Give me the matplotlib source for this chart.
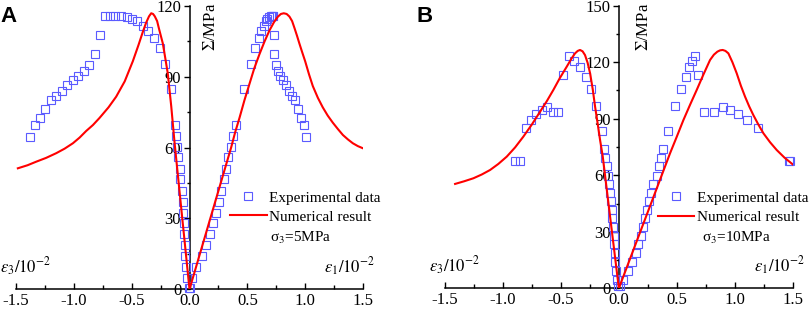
import matplotlib
matplotlib.use('Agg')
import matplotlib.pyplot as plt
from matplotlib.ticker import MultipleLocator, FormatStrFormatter

# ---------------- data ----------------
# Panel A (sigma3 = 5 MPa): experimental points (stress, eps1, eps3)
stressA = [0.5, 4.8, 9.3, 13.9, 18.7, 23.3, 28.0, 32.4, 37.1, 41.6, 46.5, 51.1, 55.8, 60.4, 64.7,
           69.4, 84.6, 95.2, 102.0, 106.3, 109.4, 111.6, 113.4, 114.4, 115.1, 115.5, 115.7, 115.8,
           115.7, 107.6, 99.4, 94.8, 92.5, 90.1, 88.4, 86.6, 83.9, 81.8, 80.1, 76.3, 72.5, 69.4, 64.3]
e1A = [0.005, 0.020, 0.060, 0.106, 0.144, 0.176, 0.199, 0.231, 0.253, 0.271, 0.300, 0.317, 0.337,
       0.362, 0.380, 0.403, 0.475, 0.530, 0.570, 0.599, 0.622, 0.643, 0.660, 0.674, 0.689, 0.703,
       0.715, 0.726, 0.720, 0.729, 0.729, 0.746, 0.763, 0.784, 0.812, 0.836, 0.864, 0.890, 0.916,
       0.936, 0.962, 0.991, 1.003]
e3A = [-0.005, -0.023, -0.026, -0.035, -0.041, -0.049, -0.049, -0.054, -0.060, -0.069, -0.080,
       -0.086, -0.098, -0.105, -0.115, -0.127, -0.162, -0.213, -0.259, -0.305, -0.357, -0.403,
       -0.450, -0.495, -0.542, -0.590, -0.640, -0.686, -0.732, -0.775, -0.818, -0.867, -0.913,
       -0.962, -1.008, -1.055, -1.104, -1.150, -1.195, -1.247, -1.294, -1.340, -1.383]
# Panel A numerical curve
numA_x = [-1.484, -1.40, -1.325, -1.24, -1.152, -1.08, -1.008, -0.95, -0.893, -0.835, -0.778,
          -0.70, -0.634, -0.56, -0.490, -0.44, -0.403, -0.375, -0.350, -0.331, -0.315, -0.300,
          -0.280, -0.265, -0.231, -0.21, -0.188, -0.158, -0.130, 0.0,
          0.36, 0.395, 0.432, 0.475, 0.519, 0.56, 0.605, 0.65, 0.691, 0.73, 0.763, 0.79, 0.815,
          0.84, 0.864, 0.887, 0.908, 0.93, 0.950, 0.975, 1.000, 1.033, 1.066, 1.11, 1.152, 1.195,
          1.239, 1.283, 1.326, 1.37, 1.412, 1.455, 1.498]
numA_y = [51.2, 52.5, 54.0, 55.6, 57.6, 59.5, 61.8, 64.2, 67.0, 69.5, 72.5,
          77.0, 81.5, 88.0, 96.5, 103.5, 109.0, 112.8, 115.5, 116.8, 116.5, 115.5,
          113.5, 110.5, 104.1, 98.0, 91.4, 77.5, 62.5, 0.0,
          60.0, 66.5, 72.5, 80.0, 87.0, 93.5, 99.5, 105.0, 109.5, 113.0, 115.3, 116.5, 116.8,
          116.5, 115.4, 113.5, 110.5, 107.2, 104.0, 100.2, 96.5, 91.0, 86.0, 81.0, 77.0, 73.5,
          70.5, 67.8, 65.3, 63.4, 61.8, 60.6, 59.7]

# Panel B (sigma3 = 10 MPa)
stressB = [1.0, 4.4, 9.2, 13.8, 18.9, 23.4, 27.8, 32.7, 37.2, 41.6, 46.3, 50.7, 55.2, 59.6, 64.9,
           69.0, 73.8, 83.5, 96.8, 105.6, 112.3, 117.4, 120.6, 123.1, 113.4, 93.6, 93.4, 96.0,
           94.5, 92.7, 89.2, 85.3, 67.7, 67.7]
e1B = [0.01, 0.039, 0.077, 0.111, 0.148, 0.163, 0.189, 0.206, 0.223, 0.246, 0.263, 0.280, 0.298,
       0.327, 0.347, 0.364, 0.384, 0.422, 0.485, 0.537, 0.577, 0.608, 0.632, 0.660, 0.686, 0.738,
       0.824, 0.896, 0.959, 1.026, 1.104, 1.199, 1.465, 1.475]
e3B = [-0.01, -0.018, -0.024, -0.030, -0.033, -0.038, -0.041, -0.047, -0.056, -0.061, -0.070,
       -0.076, -0.085, -0.095, -0.104, -0.116, -0.125, -0.148, -0.194, -0.240, -0.286, -0.337,
       -0.384, -0.430, -0.479, -0.522, -0.570, -0.619, -0.665, -0.712, -0.758, -0.803, -0.850,
       -0.896]
numB_x = [-1.413, -1.335, -1.255, -1.183, -1.111, -1.04, -0.967, -0.895, -0.824, -0.75, -0.680,
          -0.62, -0.565, -0.51, -0.450, -0.41, -0.378, -0.355, -0.335, -0.313, -0.292, -0.27,
          -0.248, -0.225, -0.205, -0.183, -0.162, -0.139, 0.0,
          0.442, 0.50, 0.557, 0.615, 0.672, 0.73, 0.787, 0.82, 0.850, 0.873, 0.896, 0.92, 0.945,
          0.98, 1.017, 1.053, 1.089, 1.125, 1.160, 1.203, 1.247, 1.305, 1.362, 1.43, 1.500]
numB_y = [55.4, 56.8, 58.4, 60.4, 62.8, 66.0, 69.9, 74.8, 80.5, 87.0, 93.7,
          99.5, 105.3, 111.5, 117.6, 121.8, 124.7, 126.0, 126.5, 125.8, 123.8, 119.8,
          114.1, 105.5, 96.4, 87.5, 78.7, 70.0, 0.0,
          71.7, 80.5, 89.3, 97.5, 105.3, 113.5, 121.2, 124.0, 125.6, 126.3, 126.5, 126.0, 124.7,
          120.0, 114.1, 107.5, 101.7, 96.5, 92.0, 87.0, 82.3, 77.5, 73.4, 69.3, 65.8]

legend_labels = ['Experimental data', 'Numerical result']
sigma_labels = ['σ$_3$=5MPa', 'σ$_3$=10MPa']
panel_labels = ['A', 'B']

# ---------------- style ----------------
plt.rcParams['font.family'] = ['Liberation Serif', 'DejaVu Serif']
plt.rcParams['mathtext.fontset'] = 'stix'
plt.rcParams['axes.unicode_minus'] = False

BLUE = '#5b5bff'
RED = '#ff0000'

fig = plt.figure(figsize=(8.09, 3.10), dpi=100)
W, H = 809.0, 310.0


def panel(left_px, width_px, bottom_px, top_px, ymax, stress, e1, e3, nx, ny,
          sig_label, leg_xy, sig_xy, ylab_x, plabel, plabel_x):
    ax = fig.add_axes([left_px / W, (H - bottom_px) / H, width_px / W, (bottom_px - top_px) / H])
    ax.set_xlim(-1.5, 1.5)
    ax.set_ylim(0, ymax)
    ax.patch.set_alpha(0)
    for s in ['top', 'right']:
        ax.spines[s].set_visible(False)
    ax.spines['left'].set_position(('data', 0))
    for s in ['left', 'bottom']:
        ax.spines[s].set_linewidth(1.1)
    ax.xaxis.set_major_locator(MultipleLocator(0.5))
    ax.xaxis.set_minor_locator(MultipleLocator(0.25))
    ax.xaxis.set_major_formatter(FormatStrFormatter('%.1f'))
    ax.yaxis.set_major_locator(MultipleLocator(30))
    ax.yaxis.set_minor_locator(MultipleLocator(15))
    ax.tick_params(axis='x', which='major', direction='in', length=4.5, width=1.0, pad=3,
                   labelsize=12)
    ax.tick_params(axis='x', which='minor', direction='in', length=3, width=1.0)
    ax.tick_params(axis='y', which='major', direction='out', length=4, width=1.0, pad=2,
                   labelsize=12)
    ax.tick_params(axis='y', which='minor', direction='out', length=2.5, width=1.0)

    h1, = ax.plot(e1, stress, 's', mfc='none', mec=BLUE, ms=5.5, mew=0.8, clip_on=False,
                  label=legend_labels[0], zorder=3)
    ax.plot(e3, stress, 's', mfc='none', mec=BLUE, ms=5.5, mew=0.8, clip_on=False, zorder=3)
    h2, = ax.plot(nx, ny, '-', color=RED, lw=1.5, label=legend_labels[1], zorder=4,
                  solid_joinstyle='round')

    ax.legend(handles=[h1, h2], loc='upper left', bbox_to_anchor=leg_xy, frameon=False,
              fontsize=11, borderpad=0, borderaxespad=0, handlelength=2.4,
              handletextpad=0.15, labelspacing=0.36)
    ax.text(sig_xy[0], sig_xy[1], sig_label, transform=ax.transAxes, fontsize=11,
            ha='left', va='center')
    ax.text(ylab_x, 1.01, r'$\mathit{\Sigma}$/MPa', transform=ax.transAxes, rotation=90,
            fontsize=12, ha='center', va='top')
    ax.text(-0.045, 0.057, r'$\varepsilon_3/10^{-2}$', transform=ax.transAxes, fontsize=12,
            ha='left', va='baseline')
    ax.text(1.035, 0.057, r'$\varepsilon_1/10^{-2}$', transform=ax.transAxes, fontsize=12,
            ha='right', va='baseline')
    fig.text(plabel_x / W, 1 - 6 / H, plabel, fontsize=16, fontweight='bold',
             family='Liberation Sans', ha='left', va='top')
    return ax


panel(16, 347, 289.3, 5.7, 120, stressA, e1A, e3A, numA_x, numA_y, sigma_labels[0],
      (0.617, 0.347), (0.732, 0.181), 0.562, panel_labels[0], 0)
panel(445, 347.7, 288.3, 5.7, 150, stressB, e1B, e3B, numB_x, numB_y, sigma_labels[1],
      (0.612, 0.344), (0.739, 0.178), 0.572, panel_labels[1], 416)

fig.savefig('out.png', dpi=100)
